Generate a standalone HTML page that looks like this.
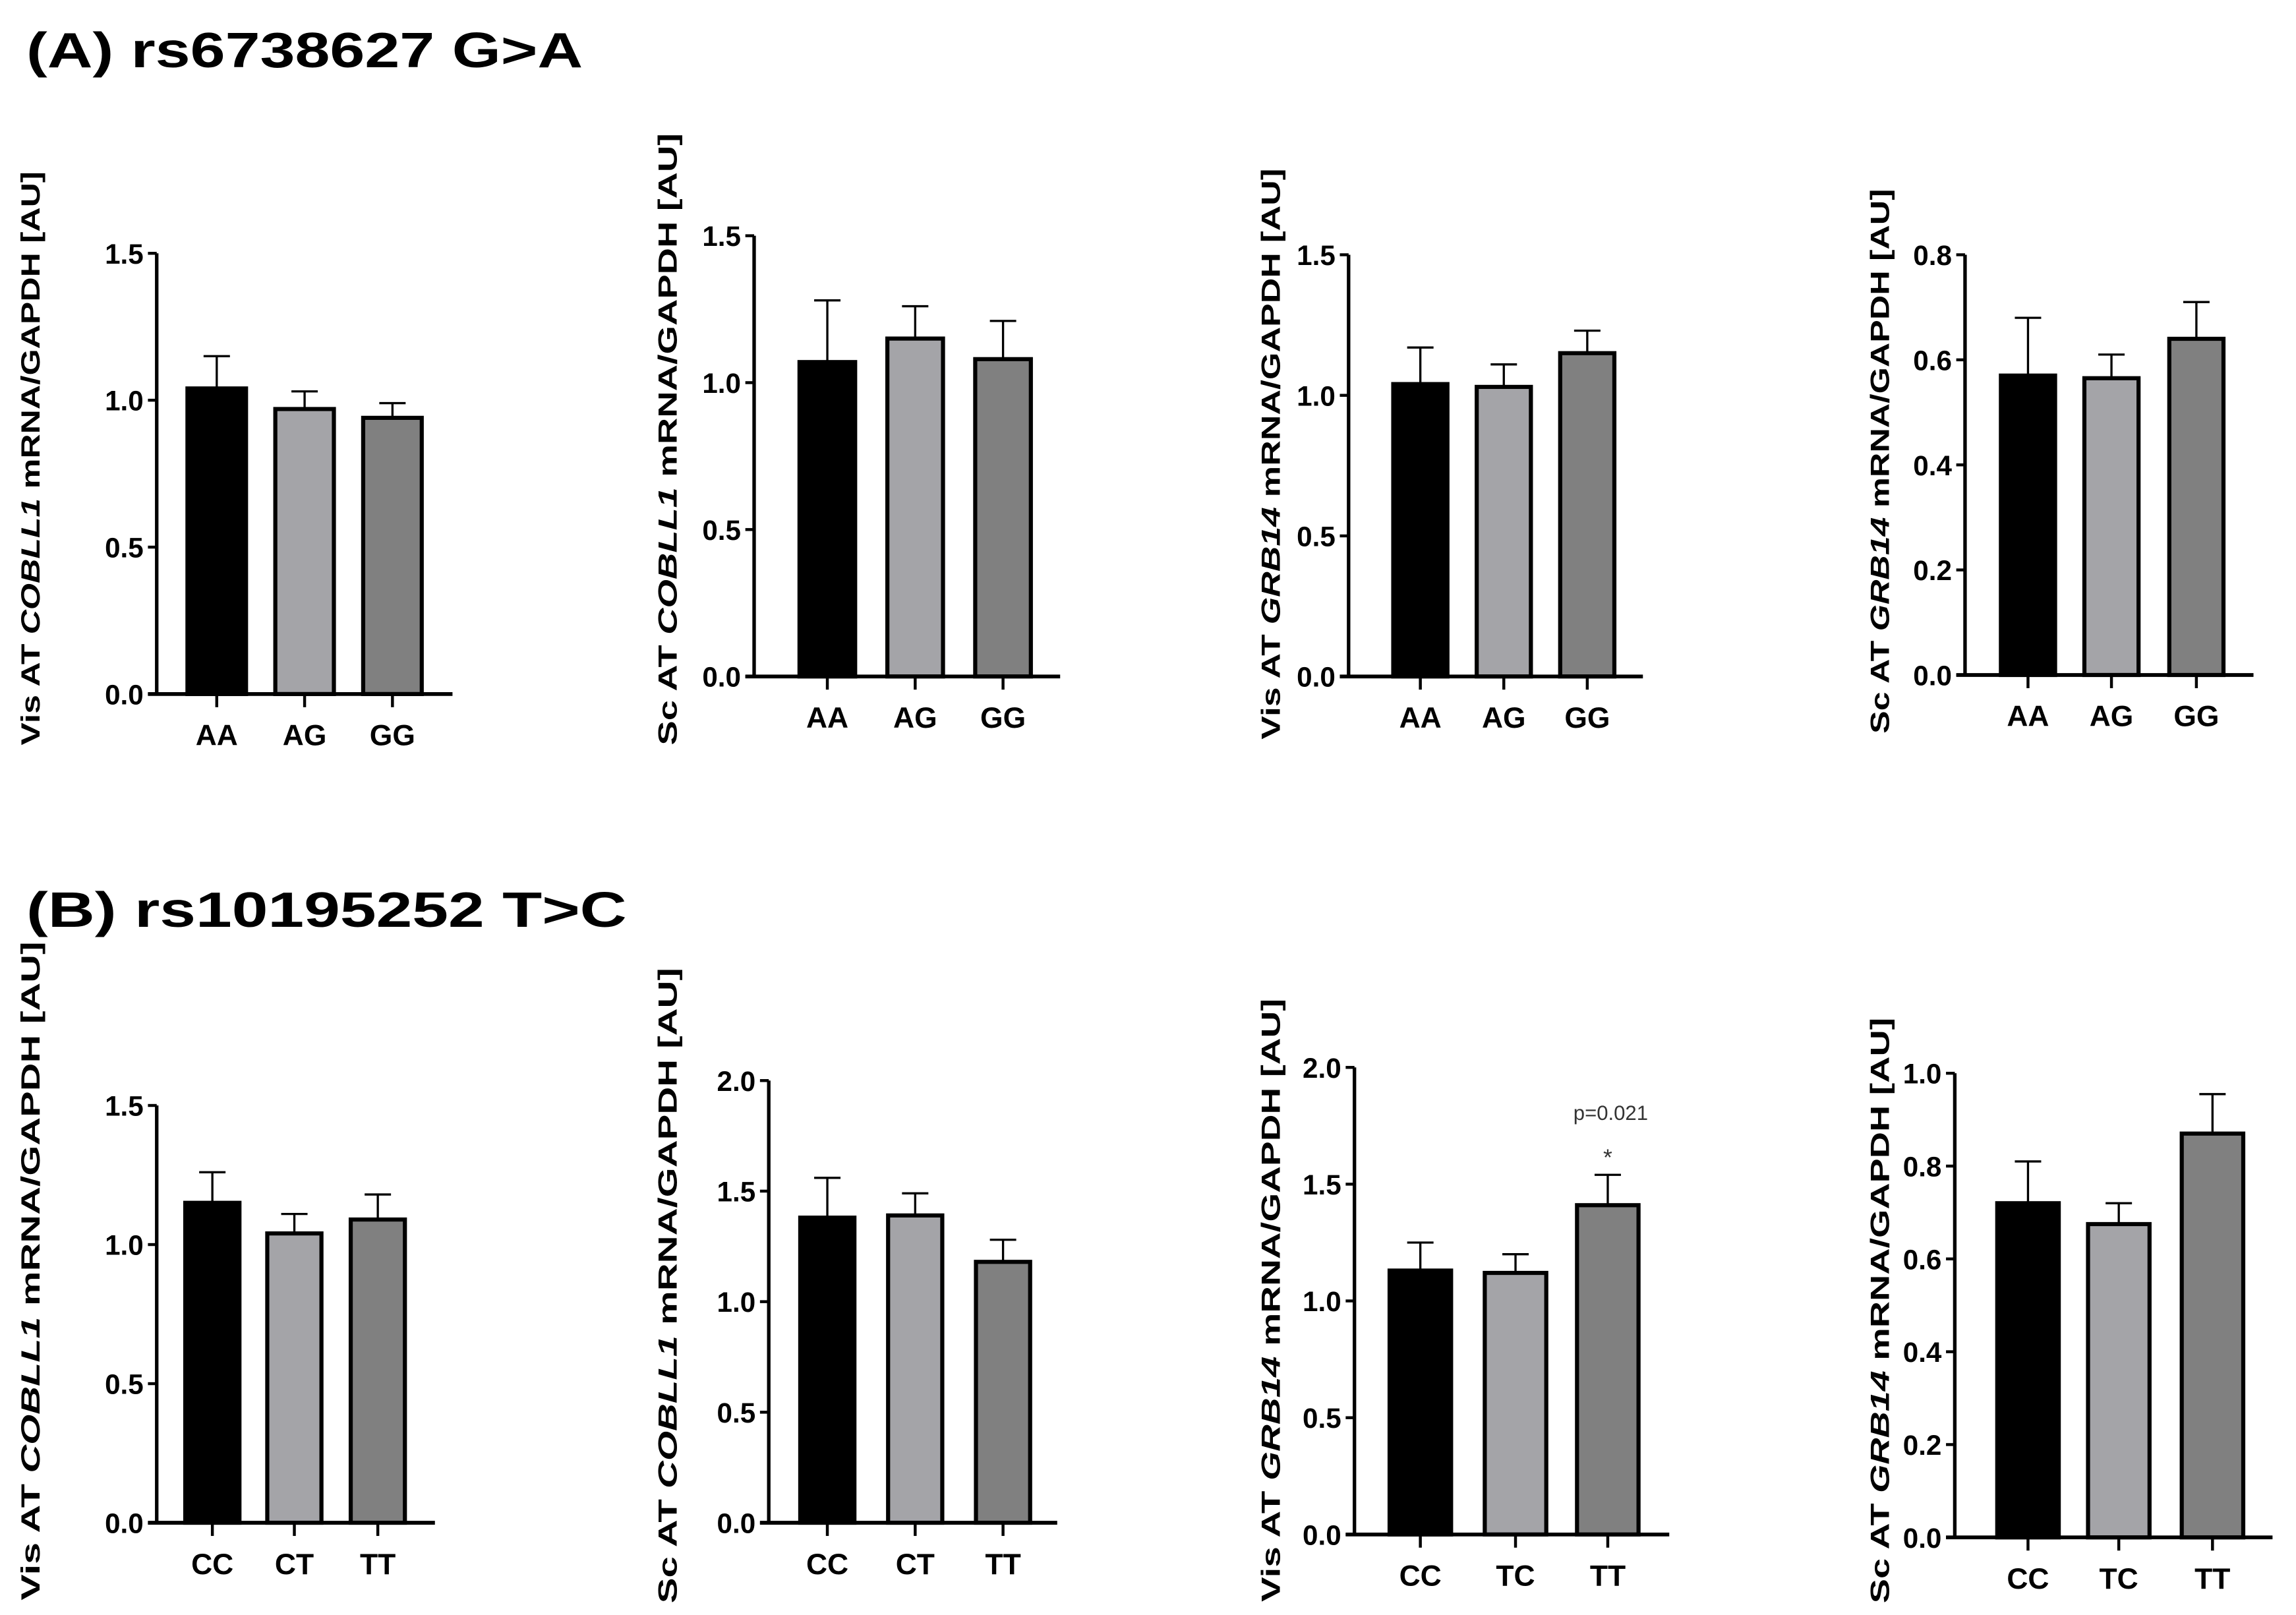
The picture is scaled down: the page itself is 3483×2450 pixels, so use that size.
<!DOCTYPE html>
<html><head><meta charset="utf-8"><style>
html,body{margin:0;padding:0;background:#fff}
svg{display:block}
text{font-family:"Liberation Sans",Arial,sans-serif}
</style></head><body>
<svg id="fig" width="3483" height="2450" viewBox="0 0 1568 1103" xmlns="http://www.w3.org/2000/svg">
<rect width="1568" height="1103" fill="#fff"/>
<text x="18" y="46" font-size="34" font-weight="bold" textLength="380" lengthAdjust="spacingAndGlyphs">(A) rs6738627 G&gt;A</text>
<text x="18" y="633" font-size="34" font-weight="bold" textLength="410" lengthAdjust="spacingAndGlyphs">(B) rs10195252 T&gt;C</text>
</svg>
<script>
const catsA = ["AA","AG","GG"];
const catsB1 = ["CC","CT","TT"];
const catsB2 = ["CC","TC","TT"];
const meansA1 = [1.04, 0.97, 0.94];
const errsA1 = [0.11, 0.06, 0.05];
const meansA2 = [1.07, 1.15, 1.08];
const errsA2 = [0.21, 0.11, 0.13];
const meansA3 = [1.04, 1.03, 1.15];
const errsA3 = [0.13, 0.08, 0.08];
const meansA4 = [0.57, 0.565, 0.64];
const errsA4 = [0.11, 0.045, 0.07];
const meansB1 = [1.15, 1.04, 1.09];
const errsB1 = [0.11, 0.07, 0.09];
const meansB2 = [1.38, 1.39, 1.18];
const errsB2 = [0.18, 0.10, 0.10];
const meansB3 = [1.13, 1.12, 1.41];
const errsB3 = [0.12, 0.08, 0.13];
const meansB4 = [0.72, 0.675, 0.87];
const errsB4 = [0.09, 0.045, 0.085];
const ticks15 = ["0.0","0.5","1.0","1.5"];
const ticks20 = ["0.0","0.5","1.0","1.5","2.0"];
const ticks08 = ["0.0","0.2","0.4","0.6","0.8"];
const ticks10 = ["0.0","0.2","0.4","0.6","0.8","1.0"];

const NS = "http://www.w3.org/2000/svg";
const svg = document.getElementById("fig");
const fills = ["#000000","#a4a4a8","#808080"];

function mk(tag, attrs, parent){
  const e = document.createElementNS(NS, tag);
  for (const k in attrs) e.setAttribute(k, attrs[k]);
  (parent||svg).appendChild(e);
  return e;
}

const panels = [
 {id:"a1", ax:107, top:173, bot:474, end:309, c:[148,208,268], bw:40, cats:catsA, m:meansA1, e:errsA1, t:ticks15, lx:20, ly:313, pre:"Vis AT ", gene:"COBLL1", len:392},
 {id:"a2", ax:515, top:161, bot:462, end:724, c:[565,625,685], bw:38, cats:catsA, m:meansA2, e:errsA2, t:ticks15, lx:455, ly:300, pre:"Sc AT ", gene:"COBLL1", len:418},
 {id:"a3", ax:921, top:174, bot:462, end:1122, c:[970,1027,1084], bw:37, cats:catsA, m:meansA3, e:errsA3, t:ticks15, lx:867, ly:310, pre:"Vis AT ", gene:"GRB14", len:390},
 {id:"a4", ax:1342, top:174, bot:461, end:1539, c:[1385,1442,1500], bw:37, cats:catsA, m:meansA4, e:errsA4, t:ticks08, lx:1283, ly:315, pre:"Sc AT ", gene:"GRB14", len:372},
 {id:"b1", ax:107, top:755, bot:1040, end:297, c:[145,201,258], bw:37, cats:catsB1, m:meansB1, e:errsB1, t:ticks15, lx:20, ly:868, pre:"Vis AT ", gene:"COBLL1", len:450},
 {id:"b2", ax:525, top:738, bot:1040, end:722, c:[565,625,685], bw:37, cats:catsB1, m:meansB2, e:errsB2, t:ticks20, lx:455, ly:878, pre:"Sc AT ", gene:"COBLL1", len:434},
 {id:"b3", ax:925, top:729, bot:1048, end:1140, c:[970,1035,1098], bw:42, cats:catsB2, m:meansB3, e:errsB3, t:ticks20, lx:867, ly:888, pre:"Vis AT ", gene:"GRB14", len:412},
 {id:"b4", ax:1335, top:733, bot:1050, end:1552, c:[1385,1447,1511], bw:42, cats:catsB2, m:meansB4, e:errsB4, t:ticks10, lx:1283, ly:895, pre:"Sc AT ", gene:"GRB14", len:400}
];

panels.forEach(p => {
  const g = mk("g", {});
  
  
  const ymax = parseFloat(p.t[p.t.length-1]);
  const y = v => p.bot - (v / ymax) * (p.bot - p.top);

  p.m.forEach((v, i) => {
    const x0 = p.c[i] - p.bw/2;
    const bar = mk("rect", {x:x0, y:y(v), width:p.bw, height:p.bot - y(v), fill:fills[i], stroke:"#000", "stroke-width":2.8}, g);
    
    
    const eb = mk("path", {d:`M${p.c[i]},${y(v)} V${y(v + p.e[i])} M${p.c[i]-9},${y(v + p.e[i])} H${p.c[i]+9}`, stroke:"#000", "stroke-width":1.5, fill:"none"}, g);
    
    
    const xt = mk("line", {x1:p.c[i], y1:p.bot, x2:p.c[i], y2:p.bot+9, stroke:"#000", "stroke-width":2}, g);
    
    
    const xl = mk("text", {x:p.c[i], y:p.bot+35, "font-size":20, "font-weight":"bold", "text-anchor":"middle"}, g);
    xl.textContent = p.cats[i];
    
    
  });

  const ya = mk("line", {x1:p.ax, y1:p.top, x2:p.ax, y2:p.bot, stroke:"#000", "stroke-width":2.4}, g);
  
  
  const xa = mk("line", {x1:p.ax-6, y1:p.bot, x2:p.end, y2:p.bot, stroke:"#000", "stroke-width":2.6}, g);
  
  

  p.t.forEach(lbl => {
    const v = parseFloat(lbl);
    const yt = mk("line", {x1:p.ax-6, y1:y(v), x2:p.ax, y2:y(v), stroke:"#000", "stroke-width":2}, g);
    
    
    const tl = mk("text", {x:p.ax-9, y:y(v)+7, "font-size":19, "font-weight":"bold", "text-anchor":"end"}, g);
    tl.textContent = lbl;
    
    
  });

  const yl = mk("text", {x:0, y:0, "font-size":18, "font-weight":"bold", "text-anchor":"middle",
    transform:`translate(${p.lx+7},${p.ly}) rotate(-90)`, textLength:p.len, lengthAdjust:"spacingAndGlyphs"}, g);
  
  
  const t1 = mk("tspan", {}, yl); t1.textContent = p.pre;
  const t2 = mk("tspan", {"font-style":"italic"}, yl); t2.textContent = p.gene;
  const t3 = mk("tspan", {}, yl); t3.textContent = " mRNA/GAPDH [AU]";

  if (p.id === "b3") {
    const pv = mk("text", {x:p.c[2]+2, y:765, "font-size":14, fill:"#333", "text-anchor":"middle"}, g);
    pv.textContent = "p=0.021";
    
    
    const st = mk("text", {x:p.c[2], y:796, "font-size":16, fill:"#333", "text-anchor":"middle"}, g);
    st.textContent = "*";
    
    
  }
});
</script>
</body></html>
